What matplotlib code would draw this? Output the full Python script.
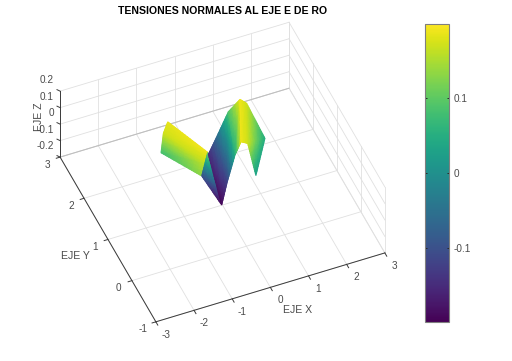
import numpy as np
import matplotlib
matplotlib.use("Agg")
import matplotlib.pyplot as plt
from matplotlib.colors import Normalize
from matplotlib.cm import ScalarMappable
from matplotlib.tri import Triangulation, UniformTriRefiner, LinearTriInterpolator
from mpl_toolkits.mplot3d import proj3d

plt.rcParams['font.family'] = ['Liberation Sans', 'DejaVu Sans']

TITLE = "TENSIONES NORMALES AL EJE E DE RO"
x_ticks = [-3, -2, -1, 0, 1, 2, 3]
y_ticks = [-1, 0, 1, 2, 3]
z_ticks = [-0.2, -0.1, 0, 0.1, 0.2]
z_tick_labels = ["-0.2", "-0.1", "0", "0.1", "0.2"]
cbar_ticks = [-0.1, 0, 0.1]
c_min, c_max = -0.199, 0.199

# Mesh vertices
surf_x = [-0.964, -1.181, -1.291, -0.481, -0.635, -0.793,
          -0.331, -0.301,
          0.234, -0.028, 0.456, 0.238, 0.718, 0.392,
          0.926, 0.399, 1.066, 0.570, 1.277, 0.634]
surf_y = [1.748, 1.587, 1.508, 0.852, 0.731, 0.604,
          1.090, 1.387,
          1.964, 0.988, 1.968, 1.178, 1.901, 1.102,
          1.744, 0.863, 1.688, 0.857, 1.261, 0.614]
surf_z = [0.185, 0.17, 0.08, 0.19, 0.16, 0.13,
          0.12, -0.10,
          -0.15, -0.195, -0.06, -0.12, 0.09, 0.05,
          0.19, 0.19, 0.17, 0.17, 0.05, 0.03]
surf_tri = [[0, 1, 3], [1, 4, 3], [1, 2, 4], [2, 5, 4],
            [6, 7, 9],
            [8, 9, 10], [9, 11, 10], [10, 11, 12], [11, 13, 12],
            [12, 13, 14], [13, 15, 14], [14, 15, 16], [15, 17, 16],
            [16, 17, 18], [17, 19, 18]]

W, H = 512, 361
fig = plt.figure(figsize=(W / 100, H / 100), dpi=100)

side = 353
ax = fig.add_axes([41.2 / W, 7.7 / H, side / W, side / H], projection='3d',
                  proj_type='ortho')
ax.view_init(elev=46, azim=-112.7)
ax.set_box_aspect((248.3, 248.3, 95))
ax.set_xlim(x_ticks[0], x_ticks[-1], view_margin=0)
ax.set_ylim(y_ticks[0], y_ticks[-1], view_margin=0)
ax.set_zlim(z_ticks[0], z_ticks[-1], view_margin=0)
ax.set_axis_off()
ax.patch.set_alpha(0)

x0, x1 = x_ticks[0], x_ticks[-1]
y0, y1 = y_ticks[0], y_ticks[-1]
z0, z1 = z_ticks[0], z_ticks[-1]
GRID = dict(color='#e0e0e0', lw=0.6, clip_on=False)
EDGE = dict(color='#bdbdbd', lw=0.7, clip_on=False)
AX = dict(color='#3a3a3a', lw=0.7, clip_on=False)

for x in x_ticks:
    ax.plot([x, x], [y0, y1], [z0, z0], **GRID)
    ax.plot([x, x], [y1, y1], [z0, z1], **GRID)
for y in y_ticks:
    ax.plot([x0, x1], [y, y], [z0, z0], **GRID)
    ax.plot([x1, x1], [y, y], [z0, z1], **GRID)
for z in z_ticks:
    ax.plot([x0, x1], [y1, y1], [z, z], **GRID)
    ax.plot([x1, x1], [y0, y1], [z, z], **GRID)
ax.plot([x0, x1], [y1, y1], [z0, z0], **EDGE)
ax.plot([x0, x1], [y0, y0], [z0, z0], **AX)
ax.plot([x0, x0], [y0, y1], [z0, z0], **AX)
ax.plot([x0, x0], [y1, y1], [z0, z1], **AX)
for x in x_ticks:
    ax.plot([x, x], [y0, y0 - 0.08], [z0, z0], **AX)
for y in y_ticks:
    ax.plot([x0, x0 - 0.1], [y, y], [z0, z0], **AX)
for z in z_ticks:
    ax.plot([x0, x0 - 0.05], [y1, y1 + 0.05], [z, z], **AX)

fig.canvas.draw()

ov = fig.add_axes([0, 0, 1, 1], facecolor='none')
ov.set_xlim(0, W)
ov.set_ylim(H, 0)
ov.axis('off')


def to_px(x, y, z):
    u, v, _ = proj3d.proj_transform(np.asarray(x, float), np.asarray(y, float),
                                    np.asarray(z, float), ax.get_proj())
    p = ax.transData.transform(np.column_stack([u, v]))
    return p[:, 0], H - p[:, 1]


norm = Normalize(c_min, c_max)
sx, sy = to_px(surf_x, surf_y, surf_z)
tri = Triangulation(sx, sy, surf_tri)
# Smooth colour across the facets, as interpolated shading does
refiner = UniformTriRefiner(tri)
fine_tri, fine_z = refiner.refine_field(np.array(surf_z),
                                        triinterpolator=LinearTriInterpolator(tri, np.array(surf_z)),
                                        subdiv=4)
ov.tripcolor(fine_tri, fine_z, shading='gouraud', cmap='viridis', norm=norm)

TXT = '#4a4a4a'
LBL = dict(fontsize=7.2, color=TXT, va='center')


def label(x, y, z, s, dx, dy, ha):
    px, py = to_px([x], [y], [z])
    ov.annotate(s, (px[0], py[0]), xytext=(dx, -dy), textcoords='offset pixels',
                ha=ha, **LBL)


for x in x_ticks:
    label(x, y0, z0, str(x), 10, 13, 'center')
for y in y_ticks:
    label(x0, y, z0, str(y), -13, 7.5, 'center')
for z, s in zip(z_ticks, z_tick_labels):
    label(x0, y1, z, s, -6, -11, 'right')

ov.text(298, 310, "EJE X", ha='center', fontsize=7.6, color=TXT, va='center')
ov.text(75, 256, "EJE Y", ha='center', fontsize=7.6, color=TXT, va='center')
ov.text(38.5, 116.5, "EJE Z", ha='center', fontsize=7.6, color=TXT, va='center',
        rotation=90)
ov.text(222.5, 10.5, TITLE, ha='center', va='center', fontsize=7.6, fontweight='bold',
        color='black')

cax = fig.add_axes([424.5 / W, (H - 322) / H, 24.5 / W, 298.5 / H])
cb = fig.colorbar(ScalarMappable(norm=norm, cmap='viridis'), cax=cax, ticks=cbar_ticks)
cb.ax.set_yticklabels(["-0.1", "0", "0.1"])
cb.outline.set_edgecolor('#7f7f7f')
cb.outline.set_linewidth(0.8)
cax.tick_params(direction='in', left=True, right=True, length=1.6, width=0.7,
                color='#262626', labelcolor=TXT, labelsize=7.2, pad=3.5)

fig.savefig("out.png", dpi=100)
